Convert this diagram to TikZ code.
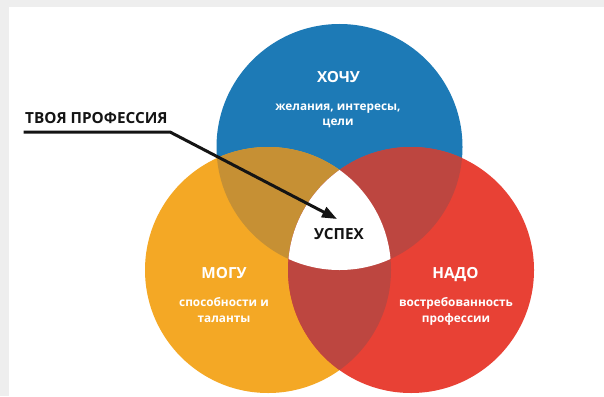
\documentclass[tikz,border=0pt]{standalone}
\usepackage{fontspec}
\setmainfont{Open Sans}
\usetikzlibrary{arrows.meta}
\definecolor{bggray}{RGB}{238,238,238}
\definecolor{cblue}{RGB}{29,122,182}
\definecolor{corange}{RGB}{244,168,37}
\definecolor{cred}{RGB}{232,65,53}
\definecolor{cgold}{RGB}{198,144,52}
\definecolor{cbrown}{RGB}{189,70,64}
\definecolor{ctext}{RGB}{20,20,20}
\tikzset{
  ttl/.style={inner sep=0pt, anchor=base, text=white, font=\fontsize{15.3}{15}\selectfont\bfseries},
  sub/.style={inner sep=0pt, anchor=base, text=white, font=\fontsize{11.8}{12}\selectfont\bfseries},
  blk/.style={inner sep=0pt, anchor=base, text=ctext, font=\fontsize{15.3}{15}\selectfont\bfseries},
  arr/.style={draw=ctext, line width=3pt, line join=miter, -{Triangle[length=15pt,width=11pt]}}
}
\begin{document}
\begin{tikzpicture}[x=1pt,y=-1pt]
\useasboundingbox (0,0) rectangle (604,396);
\fill[bggray] (0,0) rectangle (604,396);
\fill[white] (9,7) rectangle (604,396);
\coordinate (B) at (339.5,147);
\coordinate (O) at (268,270);
\coordinate (R) at (411,270);
\fill[cblue] (B) circle[radius=123pt];
\fill[corange] (O) circle[radius=123pt];
\fill[cred] (R) circle[radius=123pt];
\begin{scope}
  \clip (O) circle[radius=123pt];
  \fill[cgold] (B) circle[radius=123pt];
\end{scope}
\begin{scope}
  \clip (R) circle[radius=123pt];
  \fill[cbrown] (B) circle[radius=123pt];
  \fill[cbrown] (O) circle[radius=123pt];
\end{scope}
\begin{scope}
  \clip (R) circle[radius=123pt];
  \clip (O) circle[radius=123pt];
  \fill[white] (B) circle[radius=123pt];
\end{scope}
% texts
\node[ttl] (hochu) at (338.5,82) {ХОЧУ};
\node[sub] (hochu1) at (338,110) {желания, интересы,};
\node[sub] (hochu2) at (338,125) {цели};
\node[ttl] (mogu) at (224,278.5) {МОГУ};
\node[sub] (mogu1) at (224,306.5) {способности и};
\node[sub] (mogu2) at (224,322.5) {таланты};
\node[ttl] (nado) at (455.5,278.5) {НАДО};
\node[sub] (nado1) at (456,306.5) {востребованность};
\node[sub] (nado2) at (456,322.5) {профессии};
\node[blk] (uspeh) at (339,239) {УСПЕХ};
\node[blk, anchor=base west] (prof) at (25,123.5) {ТВОЯ ПРОФЕССИЯ};
% arrow
\coordinate (p0) at (23.5,132);
\coordinate (p1) at (170,132);
\coordinate (p2) at (337,219);
\draw[arr] (p0) -- (p1) -- (p2);
\end{tikzpicture}
\end{document}
